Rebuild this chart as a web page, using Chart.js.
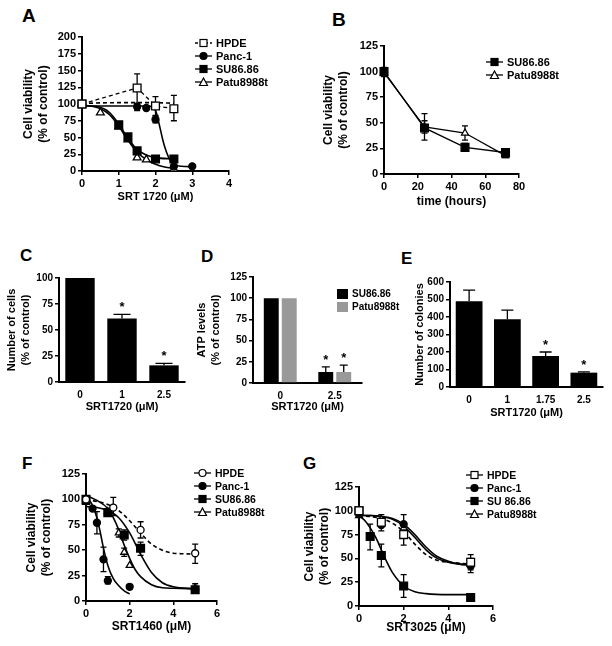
<!DOCTYPE html>
<html>
<head>
<meta charset="utf-8">
<script src="https://cdn.jsdelivr.net/npm/chart.js@4.4.1/dist/chart.umd.min.js"></script>
<style>
body { margin:0; background:#fff; width:612px; height:646px; position:relative; overflow:hidden;
       font-family:"Liberation Sans", Arial, sans-serif; font-weight:bold; color:#000; }
canvas { position:absolute; }
.lbl { position:absolute; font-weight:bold; line-height:1; }
.leg { position:absolute; font-size:11px; }
.leg div { display:flex; align-items:center; height:13px; white-space:nowrap; }
.leg svg { margin-right:4px; }
</style>
</head>
<body>
<div class="lbl" style="left:22px;top:6px;font-size:19px">A</div>
<div class="lbl" style="left:332px;top:10px;font-size:19px">B</div>
<div class="lbl" style="left:20px;top:247px;font-size:17px">C</div>
<div class="lbl" style="left:201px;top:248px;font-size:17px">D</div>
<div class="lbl" style="left:401px;top:250px;font-size:17px">E</div>
<div class="lbl" style="left:22px;top:455px;font-size:17px">F</div>
<div class="lbl" style="left:303px;top:455px;font-size:17px">G</div>

<canvas id="chartA"></canvas>
<canvas id="chartB"></canvas>
<canvas id="chartC"></canvas>
<canvas id="chartD"></canvas>
<canvas id="chartE"></canvas>
<canvas id="chartF"></canvas>
<canvas id="chartG"></canvas>

<div class="leg" id="legA" style="left:195px;top:36px"></div>
<div class="leg" id="legB" style="left:486px;top:55px"></div>
<div class="leg" id="legD" style="left:337px;top:287px;font-size:10px"></div>
<div class="leg" id="legF" style="left:194px;top:466px;font-size:10.5px"></div>
<div class="leg" id="legG" style="left:466px;top:468px;font-size:10.5px"></div>

<script>
// ---- A: SRT1720 dose response (72h) ----
var aHpdeX = [0, 1.5, 2, 2.5];
var aHpdeY = [100, 124, 97, 93];
var aHpdeHi = [null, 145, 111, 113];
var aHpdeLo = [null, 92, 83, 75];
var aHpdeFitX = [0, 1, 2, 2.5];
var aHpdeFitY = [101, 102, 102, 101];
var aPancX = [0, 1.5, 1.75, 2, 2.5, 3];
var aPancY = [100, 96, 94, 77, 7, 7];
var aPancHi = [null, 101, null, 82, null, null];
var aPancLo = [null, 90, null, 72, null, null];
var aPancFitX = [0, 1, 1.5, 1.8, 1.9, 2, 2.05, 2.1, 2.15, 2.2, 2.3, 2.4, 2.5, 2.7, 3];
var aPancFitY = [97, 97, 97, 97, 96, 90, 82, 70, 58, 46, 28, 16, 10, 7, 6.5];
var aSuX = [0, 1, 1.25, 1.5, 2, 2.5];
var aSuY = [100, 69, 51, 30, 18, 18];
var aSuFitX = [0, 0.5, 0.75, 1, 1.25, 1.5, 1.75, 2, 2.5];
var aSuFitY = [98, 95, 87, 70, 49, 32, 24, 20, 18];
var aPatuX = [0, 0.5, 1, 1.25, 1.5, 1.75, 2.5];
var aPatuY = [100, 87, 66, 47, 20, 17, 3];
var aPatuFitX = [0, 0.5, 0.75, 1, 1.25, 1.5, 1.75, 2, 2.25, 2.5];
var aPatuFitY = [99, 93, 84, 67, 46, 28, 17, 10, 6, 4];

// ---- B: time course ----
var bTime = [0, 24, 48, 72];
var bSu = [100, 45, 26, 21];
var bSuHi = [104, 59, 30, 23];
var bSuLo = [96, 33, 22, 19];
var bPatu = [99, 46, 40, 18];
var bPatuHi = [103, 52, 47, 20];
var bPatuLo = [95, 40, 33, 16];

// ---- C: number of cells ----
var cDose = ['0', '1', '2.5'];
var cCells = [100, 61, 16];
var cCellsHi = [null, 65, 18];
var cStars = [null, '*', '*'];

// ---- D: ATP levels ----
var dDose = ['0', '2.5'];
var dSu = [100, 13];
var dSuHi = [null, 19];
var dPatu = [100, 13];
var dPatuHi = [null, 21];
var dStars = [null, '*'];

// ---- E: colonies ----
var eDose = ['0', '1', '1.75', '2.5'];
var eColonies = [490, 387, 177, 82];
var eColoniesHi = [554, 439, 200, 86];
var eStars = [null, null, '*', '*'];

// ---- F: SRT1460 ----
var fHpdeX = [0, 1.25, 2.5, 5];
var fHpdeY = [100, 92, 70, 47];
var fHpdeHi = [null, 102, 78, 56];
var fHpdeLo = [null, 84, 62, 37];
var fHpdeFitX = [0, 0.5, 1, 1.5, 2, 2.5, 3, 3.5, 4, 4.5, 5];
var fHpdeFitY = [100, 98, 95, 89, 79, 67, 56, 50, 47, 46.5, 46];
var fPancX = [0, 0.3, 0.5, 0.8, 1, 2];
var fPancY = [100, 91, 77, 41, 20, 14];
var fPancHi = [null, null, 88, 53, 24, 16];
var fPancLo = [null, null, 66, 29, 17, 12];
var fPancFitX = [0, 0.25, 0.5, 0.65, 0.8, 1, 1.25, 1.5, 1.75, 2];
var fPancFitY = [103, 96, 82, 68, 52, 35, 22, 15, 10, 7];
var fSuX = [0, 1, 1.75, 2.5, 5];
var fSuY = [100, 87, 65, 52, 11];
var fSuHi = [null, 90, 70, 58, 13];
var fSuLo = [null, 84, 60, 45, 9];
var fSuFitX = [0, 0.5, 1, 1.5, 2, 2.5, 3, 3.5, 4, 5];
var fSuFitY = [93, 92, 89, 82, 67, 46, 28, 18, 14, 12];
var fPatuX = [0, 1, 1.5, 1.75, 2, 5];
var fPatuY = [97, 88, 67, 48, 35, 13];
var fPatuHi = [null, null, 71, 52, null, 17];
var fPatuLo = [null, null, 63, 44, null, 10];
var fPatuFitX = [0, 0.5, 1, 1.25, 1.5, 1.75, 2, 2.25, 2.5, 3, 3.5, 4, 5];
var fPatuFitY = [104, 99, 91, 82, 70, 55, 42, 31, 24, 16, 13, 12.5, 12];

// ---- G: SRT3025 ----
var gHpdeX = [0, 1, 2, 5];
var gHpdeY = [100, 88, 75, 46];
var gHpdeHi = [null, null, 85, 54];
var gHpdeLo = [null, null, 64, 38];
var gHpdeFitX = [0, 0.5, 1, 1.5, 2, 2.5, 3, 3.5, 4, 4.5, 5];
var gHpdeFitY = [95, 94, 92, 87, 78, 65, 54, 48, 46, 45, 44];
var gPancX = [0, 1, 2, 5];
var gPancY = [97, 85, 86, 42];
var gPancHi = [null, 92, 96, 50];
var gPancLo = [null, 79, 76, 35];
var gPancFitX = [0, 0.5, 1, 1.5, 2, 2.5, 3, 3.5, 4, 4.5, 5];
var gPancFitY = [95, 95, 94, 92, 86, 75, 62, 52, 47, 44, 43];
var gSuX = [0, 0.5, 1, 2, 5];
var gSuY = [100, 73, 53, 21, 9];
var gSuHi = [null, 86, 65, 33, null];
var gSuLo = [null, 59, 41, 9, null];
var gSuFitX = [0, 0.25, 0.5, 0.75, 1, 1.25, 1.5, 2, 2.5, 3, 4, 5];
var gSuFitY = [95, 90, 82, 72, 59, 46, 35, 21, 15, 13, 12, 12];
var gPatuX = [0, 1, 2, 5];
var gPatuY = [95, 91, 82, 44];
var gPatuHi = [null, 96, null, null];
var gPatuLo = [null, 86, null, null];
var gPatuFitX = [0, 0.5, 1, 1.5, 2, 2.5, 3, 3.5, 4, 4.5, 5];
var gPatuFitY = [95, 95, 94, 91, 84, 72, 59, 50, 46, 44, 43];

Chart.defaults.font.family = '"Liberation Sans", Arial, sans-serif';
Chart.defaults.color = '#000';
Chart.defaults.animation = false;

function xy(xs, ys) {
    return xs.map(function (x, i) { return { x: x, y: ys[i] }; });
}

// error bars (and stars) drawn through the chart's own scales
var errorBars = {
    id: 'errorBars',
    beforeDatasetsDraw: function (chart) {
        var ctx = chart.ctx;
        var ys = chart.scales.y;
        chart.data.datasets.forEach(function (ds, i) {
            if (!ds.errHi) return;
            var meta = chart.getDatasetMeta(i);
            var cap = ds.errCap || 6;
            ctx.save();
            ctx.strokeStyle = '#000';
            ctx.lineWidth = 1.3;
            meta.data.forEach(function (el, j) {
                var v = ds.data[j];
                var val = typeof v === 'object' ? v.y : v;
                var hi = ds.errHi[j];
                var lo = ds.errLo ? ds.errLo[j] : null;
                var x = el.x;
                var y0 = ys.getPixelForValue(val);
                ctx.beginPath();
                if (hi != null) {
                    var yh = ys.getPixelForValue(hi);
                    ctx.moveTo(x, y0); ctx.lineTo(x, yh);
                    ctx.moveTo(x - cap / 2, yh); ctx.lineTo(x + cap / 2, yh);
                }
                if (lo != null) {
                    var yl = ys.getPixelForValue(lo);
                    ctx.moveTo(x, y0); ctx.lineTo(x, yl);
                    ctx.moveTo(x - cap / 2, yl); ctx.lineTo(x + cap / 2, yl);
                }
                ctx.stroke();
            });
            ctx.restore();
        });
    },
    afterDatasetsDraw: function (chart) {
        var ctx = chart.ctx;
        var ys = chart.scales.y;
        chart.data.datasets.forEach(function (ds, i) {
            if (!ds.stars) return;
            var meta = chart.getDatasetMeta(i);
            ctx.save();
            ctx.fillStyle = '#000';
            ctx.font = 'bold 13px "Liberation Sans", Arial, sans-serif';
            ctx.textAlign = 'center';
            ctx.textBaseline = 'alphabetic';
            meta.data.forEach(function (el, j) {
                if (!ds.stars[j]) return;
                var top = ds.errHi && ds.errHi[j] != null ? ds.errHi[j] : ds.data[j];
                ctx.fillText(ds.stars[j], el.x, ys.getPixelForValue(top) - 3);
            });
            ctx.restore();
        });
    }
};

function axis(opt) {
    var s = {
        type: opt.type || 'linear',
        min: opt.min, max: opt.max,
        ticks: { color: '#000', font: { size: opt.fs, weight: 'bold' }, padding: 2 },
        grid: { display: opt.tick !== false, drawOnChartArea: false, color: '#000', lineWidth: 1.5, tickLength: 4 },
        border: { color: '#000', width: 2 },
        title: {
            display: true, text: opt.title, color: '#000', padding: 0,
            font: { size: opt.tfs, weight: 'bold', lineHeight: 1.25 }
        }
    };
    if (opt.step) s.ticks.stepSize = opt.step;
    if (opt.tick === false) s.ticks.padding = 3;
    if (opt.w) s.afterFit = function (sc) { sc.width = opt.w; };
    if (opt.h) s.afterFit = function (sc) { sc.height = opt.h; };
    return s;
}

// place a canvas so that its plot area lands on box (page pixels)
function makeChart(id, box, type, data, xAxis, yAxis) {
    var c = document.getElementById(id);
    var w = box.wy + (box.r - box.l) + box.pr;
    var h = box.pt + (box.b - box.t) + box.hx;
    c.width = w; c.height = h;
    c.style.left = (box.l - box.wy) + 'px';
    c.style.top = (box.t - box.pt) + 'px';
    xAxis.h = box.hx; yAxis.w = box.wy;
    return new Chart(c, {
        type: type,
        data: data,
        plugins: [errorBars],
        options: {
            responsive: false,
            layout: { padding: { top: box.pt, right: box.pr, left: 0, bottom: 0 } },
            plugins: { legend: { display: false }, tooltip: { enabled: false } },
            scales: { x: axis(xAxis), y: axis(yAxis) }
        }
    });
}

function pts(xs, ys, style, fill, r, extra) {
    var d = {
        data: xy(xs, ys), showLine: false, order: 0, clip: false,
        pointStyle: style, pointRadius: r, pointBackgroundColor: fill,
        pointBorderColor: '#000', pointBorderWidth: 1.3,
        borderColor: '#000', borderWidth: 1.3
    };
    for (var k in extra) d[k] = extra[k];
    return d;
}

function fit(xs, ys, dashed) {
    return {
        data: xy(xs, ys), showLine: true, order: 1, clip: false,
        pointRadius: 0, borderColor: '#000', borderWidth: 1.6,
        cubicInterpolationMode: 'monotone',
        borderDash: dashed ? [4, 3] : []
    };
}

// ---- A ----
makeChart('chartA', { l: 82, r: 229, t: 37, b: 171, wy: 61, pt: 10, pr: 12, hx: 33 }, 'scatter', {
    datasets: [
        pts(aHpdeX, aHpdeY, 'rect', '#fff', 5.5, { showLine: true, borderDash: [4, 3], errHi: aHpdeHi, errLo: aHpdeLo }),
        pts(aPancX, aPancY, 'circle', '#000', 3.5, { errHi: aPancHi, errLo: aPancLo }),
        pts(aSuX, aSuY, 'rect', '#000', 5.5),
        pts(aPatuX, aPatuY, 'triangle', '#fff', 4.5),
        fit(aHpdeFitX, aHpdeFitY, true),
        fit(aPancFitX, aPancFitY),
        fit(aSuFitX, aSuFitY),
        fit(aPatuFitX, aPatuFitY)
    ]
}, { min: 0, max: 4, step: 1, fs: 11, tfs: 11, title: 'SRT 1720 (\u03bcM)' },
   { min: 0, max: 200, step: 25, fs: 11, tfs: 12, title: ['Cell viability', '(% of control)'] });

// ---- B ----
makeChart('chartB', { l: 384, r: 519, t: 46, b: 174, wy: 63, pt: 10, pr: 12, hx: 35 }, 'scatter', {
    datasets: [
        pts(bTime, bSu, 'rect', '#000', 5.5, { showLine: true, errHi: bSuHi, errLo: bSuLo }),
        pts(bTime, bPatu, 'triangle', '#fff', 4, { showLine: true, errHi: bPatuHi, errLo: bPatuLo })
    ]
}, { min: 0, max: 80, step: 20, fs: 11, tfs: 12, title: 'time (hours)' },
   { min: 0, max: 125, step: 25, fs: 11, tfs: 12, title: ['Cell viability', '(% of control)'] });

// ---- C ----
makeChart('chartC', { l: 59, r: 185, t: 278, b: 382, wy: 54, pt: 10, pr: 8, hx: 32 }, 'bar', {
    labels: cDose,
    datasets: [{
        data: cCells, backgroundColor: '#000', categoryPercentage: 1, barPercentage: 0.7,
        errHi: cCellsHi, errCap: 17, stars: cStars
    }]
}, { type: 'category', tick: false, fs: 10, tfs: 11, title: 'SRT1720 (\u03bcM)' },
   { min: 0, max: 100, step: 25, fs: 10, tfs: 11, title: ['Number of cells', '(% of control)'] });

// ---- D ----
makeChart('chartD', { l: 253, r: 362, t: 277, b: 383, wy: 58, pt: 10, pr: 4, hx: 31 }, 'bar', {
    labels: dDose,
    datasets: [
        { label: 'SU86.86', data: dSu, backgroundColor: '#000', categoryPercentage: 0.66, barPercentage: 0.83,
          errHi: dSuHi, errCap: 8, stars: dStars },
        { label: 'Patu8988t', data: dPatu, backgroundColor: '#999', categoryPercentage: 0.66, barPercentage: 0.83,
          errHi: dPatuHi, errCap: 8, stars: dStars }
    ]
}, { type: 'category', tick: false, fs: 10, tfs: 11, title: 'SRT1720 (\u03bcM)' },
   { min: 0, max: 125, step: 25, fs: 10, tfs: 11, title: ['ATP levels', '(% of control)'] });

// ---- E ----
makeChart('chartE', { l: 450, r: 603, t: 282, b: 387, wy: 37, pt: 10, pr: 6, hx: 33 }, 'bar', {
    labels: eDose,
    datasets: [{
        data: eColonies, backgroundColor: '#000', categoryPercentage: 1, barPercentage: 0.7,
        errHi: eColoniesHi, errCap: 12, stars: eStars
    }]
}, { type: 'category', tick: false, fs: 10, tfs: 11, title: 'SRT1720 (\u03bcM)' },
   { min: 0, max: 600, step: 100, fs: 10, tfs: 11, title: 'Number of colonies' });

// ---- F ----
makeChart('chartF', { l: 86, r: 217, t: 474, b: 601, wy: 62, pt: 10, pr: 10, hx: 33 }, 'scatter', {
    datasets: [
        pts(fHpdeX, fHpdeY, 'circle', '#fff', 3.5, { errHi: fHpdeHi, errLo: fHpdeLo }),
        pts(fPancX, fPancY, 'circle', '#000', 3.5, { errHi: fPancHi, errLo: fPancLo }),
        pts(fSuX, fSuY, 'rect', '#000', 5.5, { errHi: fSuHi, errLo: fSuLo }),
        pts(fPatuX, fPatuY, 'triangle', '#fff', 4, { errHi: fPatuHi, errLo: fPatuLo }),
        fit(fHpdeFitX, fHpdeFitY, true),
        fit(fPancFitX, fPancFitY),
        fit(fSuFitX, fSuFitY),
        fit(fPatuFitX, fPatuFitY)
    ]
}, { min: 0, max: 6, step: 2, fs: 11, tfs: 12, title: 'SRT1460 (\u03bcM)' },
   { min: 0, max: 125, step: 25, fs: 11, tfs: 12, title: ['Cell viability', '(% of control)'] });

// ---- G ----
makeChart('chartG', { l: 359, r: 493, t: 487, b: 606, wy: 57, pt: 10, pr: 10, hx: 29 }, 'scatter', {
    datasets: [
        pts(gHpdeX, gHpdeY, 'rect', '#fff', 5.5, { errHi: gHpdeHi, errLo: gHpdeLo }),
        pts(gPancX, gPancY, 'circle', '#000', 3.5, { errHi: gPancHi, errLo: gPancLo }),
        pts(gSuX, gSuY, 'rect', '#000', 5.5, { errHi: gSuHi, errLo: gSuLo }),
        pts(gPatuX, gPatuY, 'triangle', '#fff', 4, { errHi: gPatuHi, errLo: gPatuLo }),
        fit(gHpdeFitX, gHpdeFitY, true),
        fit(gPancFitX, gPancFitY),
        fit(gSuFitX, gSuFitY),
        fit(gPatuFitX, gPatuFitY)
    ]
}, { min: 0, max: 6, step: 2, fs: 11, tfs: 12, title: 'SRT3025 (\u03bcM)' },
   { min: 0, max: 125, step: 25, fs: 11, tfs: 12, title: ['Cell viability', '(% of control)'] });

// ---- legends ----
function marker(shape, fill) {
    if (shape === 'rect') return '<rect x="5" y="1.5" width="7" height="7" fill="' + fill + '" stroke="#000" stroke-width="1.2"/>';
    if (shape === 'circle') return '<circle cx="8.5" cy="5" r="3.5" fill="' + fill + '" stroke="#000" stroke-width="1.2"/>';
    return '<polygon points="8.5,1 12.5,8.5 4.5,8.5" fill="' + fill + '" stroke="#000" stroke-width="1.2"/>';
}
function legend(id, items) {
    var el = document.getElementById(id);
    items.forEach(function (it) {
        var row = document.createElement('div');
        var sym;
        if (it.box) {
            sym = '<svg width="11" height="10"><rect x="0" y="0" width="11" height="10" fill="' + it.box + '"/></svg>';
        } else {
            sym = '<svg width="17" height="10"><line x1="0" y1="5" x2="17" y2="5" stroke="#000" stroke-width="1.3"' +
                (it.dash ? ' stroke-dasharray="3,2"' : '') + '/>' + marker(it.shape, it.fill) + '</svg>';
        }
        row.innerHTML = sym + '<span>' + it.label + '</span>';
        el.appendChild(row);
    });
}
legend('legA', [
    { shape: 'rect', fill: '#fff', dash: true, label: 'HPDE' },
    { shape: 'circle', fill: '#000', label: 'Panc-1' },
    { shape: 'rect', fill: '#000', label: 'SU86.86' },
    { shape: 'triangle', fill: '#fff', label: 'Patu8988t' }
]);
legend('legB', [
    { shape: 'rect', fill: '#000', label: 'SU86.86' },
    { shape: 'triangle', fill: '#fff', label: 'Patu8988t' }
]);
legend('legD', [
    { box: '#000', label: 'SU86.86' },
    { box: '#999', label: 'Patu8988t' }
]);
legend('legF', [
    { shape: 'circle', fill: '#fff', label: 'HPDE' },
    { shape: 'circle', fill: '#000', label: 'Panc-1' },
    { shape: 'rect', fill: '#000', label: 'SU86.86' },
    { shape: 'triangle', fill: '#fff', label: 'Patu8988t' }
]);
legend('legG', [
    { shape: 'rect', fill: '#fff', label: 'HPDE' },
    { shape: 'circle', fill: '#000', label: 'Panc-1' },
    { shape: 'rect', fill: '#000', label: 'SU 86.86' },
    { shape: 'triangle', fill: '#fff', label: 'Patu8988t' }
]);
</script>
</body>
</html>
